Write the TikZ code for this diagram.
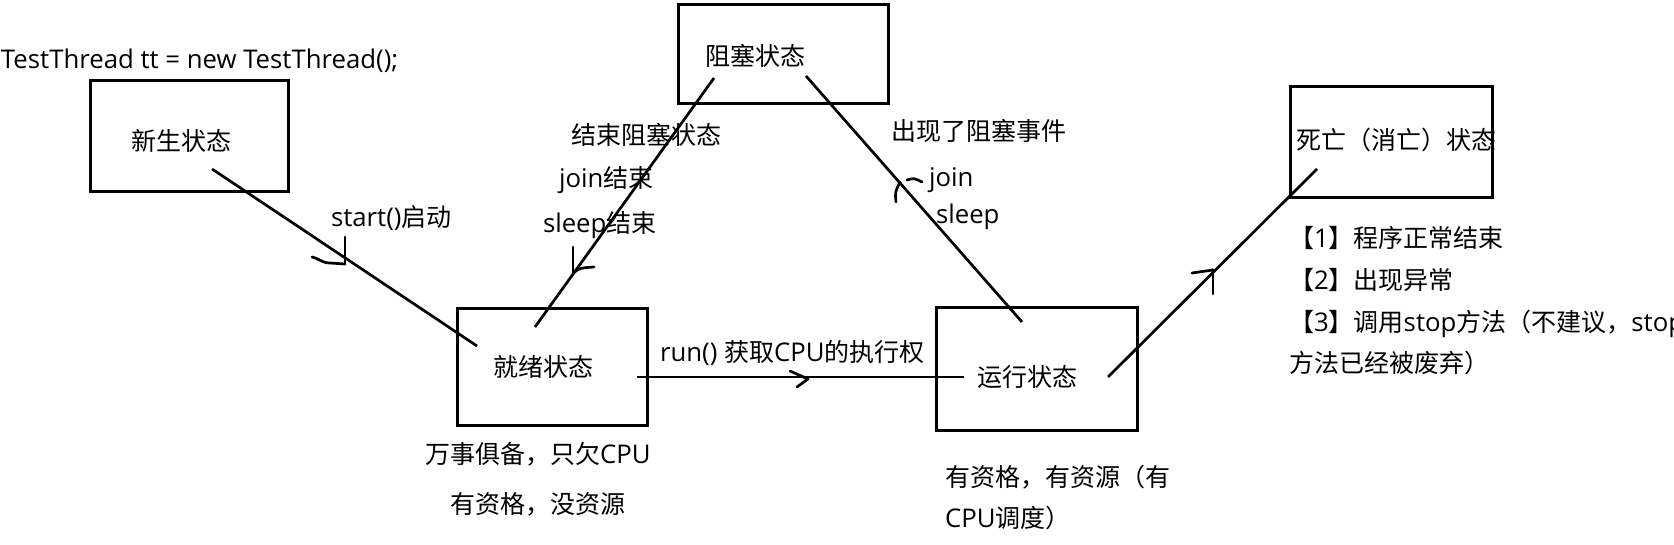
\documentclass[tikz,border=0pt]{standalone}
\usepackage{fontspec}
\setmainfont{Noto Sans CJK SC}
\newfontfamily\latf[Scale=1.03]{Open Sans}
\newcommand\LatTxt[1]{{\latf #1}}
\newcommand\fsz{\fontsize{25}{30}\selectfont}
\tikzset{
  box/.style={draw, line width=3.2pt, inner sep=0pt, outer sep=0pt, anchor=north west},
  lbl/.style={anchor=base west, inner sep=0pt, outer sep=0pt, font=\fsz},
  conn/.style={line width=2.7pt},
  tipmark/.style={line width=2.7pt, line cap=round, line join=round}
}
\begin{document}
\begin{tikzpicture}[x=1pt,y=-1pt]
\useasboundingbox (0,0) rectangle (1674,545);
\fill[white] (0,0) rectangle (1674,545);
% boxes
\node[box, minimum width=197.8pt, minimum height=110.8pt] (xinsheng) at (90.6,80.6) {};
\node[box, minimum width=209.8pt, minimum height=98.8pt] (zuse) at (678.6,4.6) {};
\node[box, minimum width=189.8pt, minimum height=116.8pt] (jiuxu) at (457.6,308.6) {};
\node[box, minimum width=200.8pt, minimum height=122.8pt] (yunxing) at (936.6,307.6) {};
\node[box, minimum width=201.8pt, minimum height=110.8pt] (siwang) at (1290.6,86.6) {};
% texts
\node[lbl] (tcode) at (1,69) {\LatTxt{TestThread tt = new TestThread();}};
\node[lbl] (txinsheng) at (131,151) {新生状态};
\node[lbl] (tstart) at (331,227) {\LatTxt{start()}启动};
\node[lbl] (tjiuxu) at (493,377) {就绪状态};
\node[lbl] (tzuse) at (705,66) {阻塞状态};
\node[lbl] (tendblock) at (571,145) {结束阻塞状态};
\node[lbl] (tjoinend) at (559,188) {\LatTxt{join}结束};
\node[lbl] (tsleepend) at (543,233) {\LatTxt{sleep}结束};
\node[lbl] (tblock) at (891,141) {出现了阻塞事件};
\node[lbl] (tjoin) at (929,187) {\LatTxt{join}};
\node[lbl] (tsleep) at (936,224) {\LatTxt{sleep}};
\node[lbl] (trun) at (660,362) {\LatTxt{run() }获取\LatTxt{CPU}的执行权};
\node[lbl] (tready1) at (425,463) {万事俱备，只欠\LatTxt{CPU}};
\node[lbl] (tready2) at (450,513) {有资格，没资源};
\node[lbl] (trunning) at (977,386) {运行状态};
\node[lbl] (trun1) at (945,486) {有资格，有资源（有};
\node[lbl] (trun2) at (945,527) {\LatTxt{CPU}调度）};
\node[lbl] (tdead) at (1296,150) {死亡（消亡）状态};
\node[lbl] (td1) at (1289,248) {【\LatTxt{1}】程序正常结束};
\node[lbl] (td2) at (1289,290) {【\LatTxt{2}】出现异常};
\begin{scope}
\clip (0,0) rectangle (1674,545);
\node[lbl] (td3) at (1289,332) {【\LatTxt{3}】调用\LatTxt{stop}方法（不建议，\LatTxt{stop}};
\end{scope}
\node[lbl] (td4) at (1289,373) {方法已经被废弃）};
% connector end points
\coordinate (a1) at (212,169);
\coordinate (a2) at (477,346);
\coordinate (b1) at (714,78);
\coordinate (b2) at (535,327);
\coordinate (c1) at (1022,322);
\coordinate (c2) at (806,76);
\coordinate (d1) at (637,377);
\coordinate (d2) at (964,377);
\coordinate (e1) at (1108,377);
\coordinate (e2) at (1317,169);
% connectors
\draw[conn] (a1) -- (a2);
\draw[conn] (b1) -- (b2);
\draw[conn] (c1) -- (c2);
\draw[conn] (d1) -- (d2);
\draw[conn] (e1) -- (e2);
% hand-drawn arrow marks
\draw[tipmark] (345,237) -- (345,264);
\draw[tipmark] (312,257) .. controls (320,259) and (322,263) .. (330,263) -- (345,264);
\draw[tipmark] (573,247) -- (573,273);
\draw[tipmark] (573,273) .. controls (580,268) .. (594,267);
\draw[tipmark] (896,202) .. controls (895,192) .. (900,182);
\draw[tipmark] (907,180) .. controls (914,178) .. (922,182);
\draw[tipmark] (790,371) -- (808,379) -- (797,387);
\draw[tipmark] (1213,294) -- (1213,270);
\draw[tipmark] (1192,273) -- (1213,270);
\end{tikzpicture}
\end{document}
